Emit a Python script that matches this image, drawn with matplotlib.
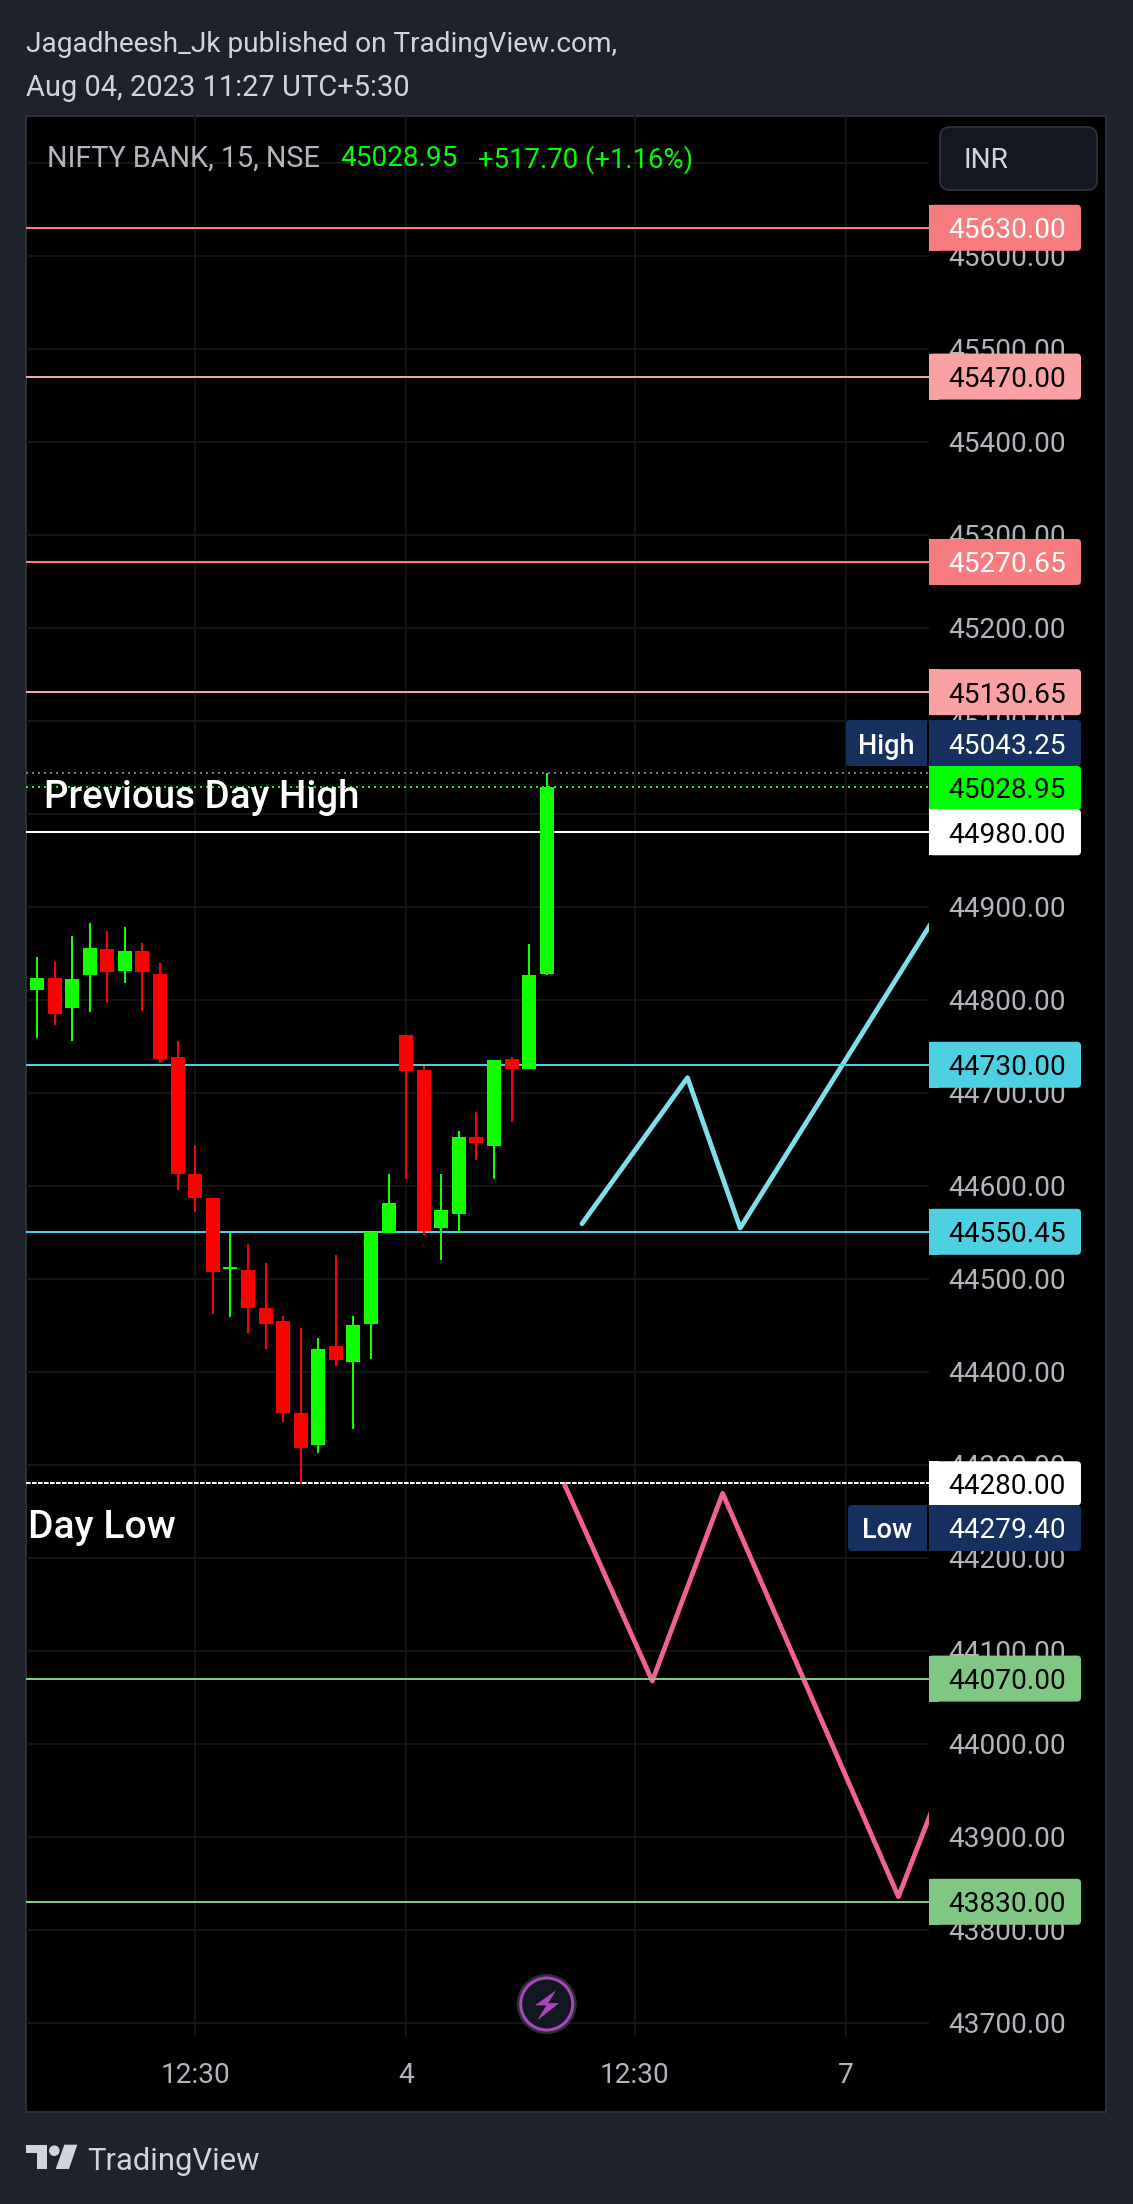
import matplotlib
matplotlib.use("Agg")
import matplotlib.pyplot as plt
from matplotlib.patches import FancyBboxPatch, Rectangle, Polygon, Circle

W, H = 1133, 2204
plt.rcParams['font.family'] = ['Roboto', 'DejaVu Sans']

opens = [44810.4, 44823.3, 44791.1, 44826.6, 44854.5, 44830.9, 44852.4, 44827.6, 44738.4, 44612.6,
         44586.8, 44510.4, 44509.4, 44468.5, 44454.5, 44355.6, 44321.2, 44427.6, 44410.4, 44451.3,
         44549.1, 44762.0, 44724.4, 44554.5, 44569.6, 44652.4, 44642.7, 44736.2, 44725.5, 44827.6]
highs = [44845.9, 44840.5, 44868.5, 44882.5, 44873.9, 44878.2, 44861.0, 44839.5, 44755.6, 44643.8,
         44586.8, 44549.1, 44537.3, 44516.9, 44459.9, 44447.0, 44436.2, 44525.5, 44459.9, 44550.2,
         44612.6, 44762.0, 44728.7, 44612.6, 44658.8, 44679.2, 44735.2, 44738.4, 44859.9, 45043.25]
lows = [44758.8, 44772.8, 44755.6, 44786.8, 44796.5, 44818.0, 44787.8, 44731.9, 44595.4, 44571.7,
        44462.0, 44458.8, 44441.6, 44424.4, 44345.9, 44279.4, 44312.6, 44406.1, 44338.4, 44413.6,
        44549.1, 44607.2, 44547.0, 44520.1, 44549.1, 44627.6, 44607.2, 44668.5, 44725.5, 44826.6]
closes = [44823.3, 44784.6, 44822.3, 44855.6, 44829.8, 44852.4, 44829.8, 44736.2, 44612.6, 44586.8,
          44507.2, 44512.6, 44468.5, 44451.3, 44355.6, 44318.0, 44424.4, 44412.6, 44450.2, 44550.2,
          44581.4, 44723.3, 44551.3, 44573.9, 44652.4, 44645.9, 44735.2, 44725.5, 44826.6, 45028.95]

level_prices = [45630.00, 45470.00, 45270.65, 45130.65, 44980.00, 44730.00, 44550.45, 44280.00, 44070.00, 43830.00]
level_texts = ['45630.00', '45470.00', '45270.65', '45130.65', '44980.00', '44730.00', '44550.45', '44280.00', '44070.00', '43830.00']
level_colors = ['#F77C80', '#FAA1A4', '#F77C80', '#FAA1A4', '#FFFFFF', '#4DD0E1', '#4DD0E1', '#FFFFFF', '#81C784', '#81C784']
level_textcolors = ['#FFFFFF', '#000000', '#FFFFFF', '#000000', '#000000', '#000000', '#000000', '#000000', '#000000', '#000000']

cyan_x = [31, 37, 40, 51]
cyan_y = [44559.1, 44716.1, 44554.5, 44886.3]
pink_x = [30, 35, 39, 49, 51]
pink_y = [44279.0, 44067.4, 44269.2, 43835.5, 43933.0]

price_ticks = [45700, 45600, 45500, 45400, 45300, 45200, 45100, 45000, 44900, 44800, 44700, 44600,
               44500, 44400, 44300, 44200, 44100, 44000, 43900, 43800, 43700]
time_ticks = [9, 21, 34, 46]
time_labels = ['12:30', '4', '12:30', '7']

last_price = 45028.95
high_price = 45043.25
low_price = 44279.40

BG = '#1E222D'
BORDER = '#2A2E39'
GRID = '#141414'
TXT = '#B2B5BE'
GREEN = '#12FF00'
RED = '#FF0000'
NAVY = '#16305F'
px = 0.72  # one pixel in points at dpi 100
FS = 28 * px

fig = plt.figure(figsize=(W / 100, H / 100), dpi=100, facecolor=BG)


def pixel_axes(z):
    a = fig.add_axes([0, 0, 1, 1], zorder=z)
    a.set_xlim(0, W)
    a.set_ylim(H, 0)
    a.axis('off')
    return a


under = pixel_axes(-1)
under.add_patch(Rectangle((26, 116), 1080, 1996, facecolor='#000000', edgecolor=BORDER, linewidth=1.5))

# price pane
L, R, T, B = 26, 929, 116, 2037
ax = fig.add_axes([L / W, 1 - B / H, (R - L) / W, (B - T) / H], zorder=1)
ax.patch.set_alpha(0)
for s in ax.spines.values():
    s.set_visible(False)
ax.set_xlim(-0.626, 50.74)
ax.set_ylim(43684.6, 45750.2)
ax.set_yticks(price_ticks)
ax.set_yticklabels([f'{p:.2f}' for p in price_ticks])
ax.set_xticks(time_ticks)
ax.set_xticklabels(time_labels)
ax.yaxis.tick_right()
ax.tick_params(axis='y', length=0, pad=19 * px, labelsize=FS, labelcolor=TXT)
ax.tick_params(axis='x', length=0, pad=25 * px, labelsize=FS, labelcolor=TXT)
ax.grid(True, color=GRID, linewidth=2 * px)
ax.set_axisbelow(True)

# target zigzags
ax.plot(cyan_x, cyan_y, color='#80DEEA', lw=4.8 * px, solid_capstyle='round', solid_joinstyle='round', zorder=2)
ax.plot(pink_x, pink_y, color='#F06292', lw=4.8 * px, solid_capstyle='round', solid_joinstyle='round', zorder=2)

# horizontal levels
for p, c in zip(level_prices, level_colors):
    ls = (0, (2.3, 0.7)) if p == 44280.00 else '-'
    ax.axhline(p, color=c, lw=2 * px, ls=ls, zorder=3)
ax.axhline(high_price, color='#787B86', lw=2 * px, ls=(0, (1, 2)), zorder=3)
ax.axhline(last_price, color='#00FF00', lw=2 * px, ls=(0, (1, 2)), zorder=3)

# candles
for i, (o, h, l, c) in enumerate(zip(opens, highs, lows, closes)):
    col = GREEN if c >= o else RED
    ax.vlines(i, l, h, color=col, lw=2 * px, zorder=4)
    ax.bar(i, abs(c - o), bottom=min(o, c), width=14 / 17.58, color=col, linewidth=0, zorder=5)

fig.canvas.draw()


def py(price):
    return H - ax.transData.transform((0, price))[1]


over = pixel_axes(2)


def tag(yc, text, face, tc, h=46):
    over.add_patch(FancyBboxPatch((933, yc - h / 2 + 4), 144, h - 8, boxstyle='round,pad=4,rounding_size=4',
                                  facecolor=face, edgecolor='none'))
    over.add_patch(Rectangle((929, yc - h / 2), 10, h, facecolor=face, edgecolor='none'))
    over.text(948, yc, text, color=tc, fontsize=FS, va='center_baseline', ha='left')


def side_tag(x0, yc, text, h=46):
    over.add_patch(FancyBboxPatch((x0 + 4, yc - h / 2 + 4), 927 - x0 - 8, h - 8,
                                  boxstyle='round,pad=4,rounding_size=4', facecolor=NAVY, edgecolor='none'))
    over.add_patch(Rectangle((915, yc - h / 2), 12, h, facecolor=NAVY, edgecolor='none'))
    over.text((x0 + 927) / 2, yc, text, color='#FFFFFF', fontsize=27 * px, fontweight='medium',
              va='center_baseline', ha='center')


for p, t, c, tc in zip(level_prices, level_texts, level_colors, level_textcolors):
    if p not in (44980.00, 44280.00):
        tag(py(p), t, c, tc)

side_tag(846, 743, 'High')
tag(743, f'{high_price:.2f}', NAVY, '#FFFFFF')
tag(788, f'{last_price:.2f}', '#00FF00', '#000000', h=44)
tag(py(44980.00), '44980.00', '#FFFFFF', '#000000')
tag(py(44280.00), '44280.00', '#FFFFFF', '#000000', h=44)
side_tag(848, 1528, 'Low')
tag(1528, f'{low_price:.2f}', NAVY, '#FFFFFF')

# header
over.text(26, 41, 'Jagadheesh_Jk published on TradingView.com,', color='#D1D4DC', fontsize=28 * px,
          va='center_baseline', ha='left')
over.text(26, 85, 'Aug 04, 2023 11:27 UTC+5:30', color='#D1D4DC', fontsize=29 * px,
          va='center_baseline', ha='left')

# legend row
over.text(47, 156, 'NIFTY BANK, 15, NSE', color=TXT, fontsize=28.7 * px, va='center_baseline', ha='left')
over.text(340, 156, '45028.95', color='#00FF00', fontsize=FS, va='center_baseline', ha='left')
over.text(478, 156, '+517.70 (+1.16%)', color='#00FF00', fontsize=27.5 * px, va='center_baseline', ha='left')

# currency button
over.add_patch(FancyBboxPatch((948, 135), 141, 47, boxstyle='round,pad=8,rounding_size=10',
                              facecolor='#131722', edgecolor=BORDER, linewidth=1.5))
over.text(964, 158, 'INR', color='#D1D4DC', fontsize=FS, va='center_baseline', ha='left')

# drawn labels
over.text(44, 793, 'Previous Day High', color='#FFFFFF', fontsize=38.5 * px, fontweight='medium',
          va='center_baseline', ha='left')
over.text(28, 1524, 'Day Low', color='#FFFFFF', fontsize=39 * px, fontweight='medium',
          va='center_baseline', ha='left')

# lightning badge
over.add_patch(Circle((546.7, 2004), 30, facecolor=BORDER, edgecolor='none'))
over.add_patch(Circle((546.7, 2004), 26, facecolor='#131722', edgecolor='#AB47BC', linewidth=3 * px))
over.add_patch(Polygon([(555, 1991.5), (536, 2005), (547, 2005), (538.5, 2019), (558, 2003.5), (547.5, 2003.5)],
                       closed=True, facecolor='#AB47BC', edgecolor='#AB47BC', linewidth=0.5, joinstyle='round'))

# brand
LOGO = '#D1D4DC'
over.add_patch(Polygon([(26, 2144.7), (47, 2144.7), (47, 2169), (37, 2169), (37, 2153), (26, 2153)],
                       closed=True, facecolor=LOGO, edgecolor='none'))
over.add_patch(Circle((54.3, 2150.7), 5.3, facecolor=LOGO, edgecolor='none'))
over.add_patch(Polygon([(64.3, 2144.7), (77.3, 2144.7), (69, 2169), (55.7, 2169)],
                       closed=True, facecolor=LOGO, edgecolor='none'))
over.text(87, 2158, 'TradingView', color='#D1D4DC', fontsize=31 * px, va='center_baseline', ha='left')

fig.savefig('out.png', dpi=100, facecolor=BG)
